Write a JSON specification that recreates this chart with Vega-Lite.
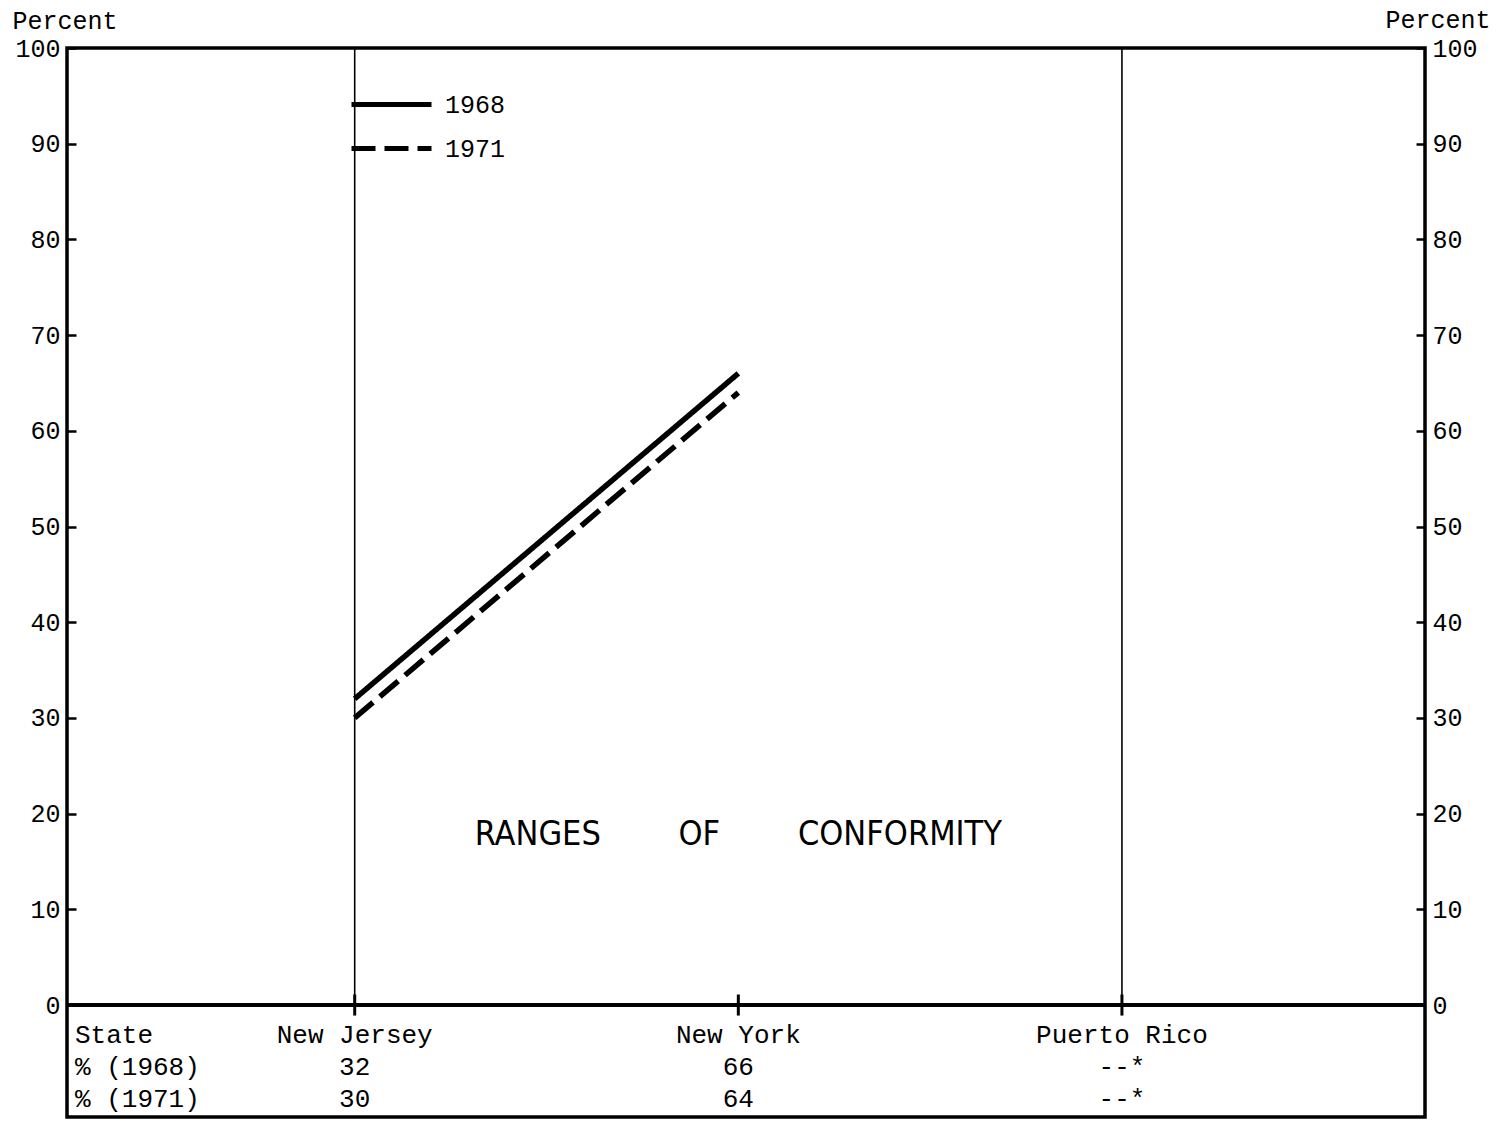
{
  "$schema": "https://vega.github.io/schema/vega-lite/v6.json",
  "width": 1358,
  "height": 1069,
  "autosize": {"type": "none"},
  "padding": {"left": 67, "top": 48, "right": 74, "bottom": 5},
  "background": "white",
  "config": {
    "view": {"stroke": "black", "strokeWidth": 3.5},
    "font": "Liberation Mono",
    "text": {"font": "Liberation Mono", "fontSize": 26, "color": "black"}
  },
  "datasets": {
    "states": [
      {"state": "New Jersey", "p1968": 32, "p1971": 30},
      {"state": "New York", "p1968": 66, "p1971": 64},
      {"state": "Puerto Rico", "p1968": null, "p1971": null}
    ],
    "note": [{"label": "RANGES\u00a0\u00a0\u00a0\u00a0\u00a0\u00a0\u00a0\u00a0OF\u00a0\u00a0\u00a0\u00a0\u00a0\u00a0\u00a0\u00a0CONFORMITY"}]
  },
  "data": {"name": "states"},
  "resolve": {"axis": {"y": "independent"}},
  "layer": [
    {
      "transform": [{"filter": "datum.state !== 'New York'"}],
      "mark": {"type": "rule", "strokeWidth": 1.6, "color": "black"},
      "encoding": {
        "x": {"field": "state", "type": "nominal", "scale": {"type": "point", "domain": ["New Jersey", "New York", "Puerto Rico"], "padding": 0.77, "align": 0.487}, "axis": null},
        "y": {
          "datum": 0, "type": "quantitative",
          "scale": {"domain": [-11.7, 100], "nice": false, "zero": false},
          "axis": {
            "orient": "left", "values": [0, 10, 20, 30, 40, 50, 60, 70, 80, 90, 100],
            "domain": false, "grid": false, "tickSize": -9, "tickWidth": 2.5, "tickColor": "black",
            "labelPadding": 16, "labelFont": "Liberation Mono", "labelFontSize": 25, "labelColor": "black",
            "title": "Percent", "titleAngle": 0, "titleAlign": "left", "titleBaseline": "alphabetic",
            "titleX": -55, "titleY": -20, "titleFont": "Liberation Mono", "titleFontSize": 25,
            "titleFontWeight": "normal", "titleColor": "black"
          }
        },
        "y2": {"datum": 100}
      }
    },
    {
      "mark": {"type": "rule", "strokeWidth": 3.5, "color": "black"},
      "encoding": {
        "y": {
          "datum": 0, "type": "quantitative",
          "axis": {
            "orient": "right", "values": [0, 10, 20, 30, 40, 50, 60, 70, 80, 90, 100],
            "domain": false, "grid": false, "tickSize": -9, "tickWidth": 2.5, "tickColor": "black",
            "labelPadding": 16, "labelFont": "Liberation Mono", "labelFontSize": 25, "labelColor": "black",
            "title": "Percent", "titleAngle": 0, "titleAlign": "left", "titleBaseline": "alphabetic",
            "titleX": -40, "titleY": -21, "titleFont": "Liberation Mono", "titleFontSize": 25,
            "titleFontWeight": "normal", "titleColor": "black"
          }
        }
      }
    },
    {
      "mark": {"type": "rule", "strokeWidth": 3, "color": "black"},
      "encoding": {
        "x": {"field": "state", "type": "nominal", "axis": null},
        "y": {"datum": -1.1, "type": "quantitative", "axis": null},
        "y2": {"datum": 1.1}
      }
    },
    {
      "transform": [
        {"fold": ["p1968", "p1971"], "as": ["series", "value"]},
        {"filter": "datum.value != null"}
      ],
      "mark": {"type": "line", "strokeWidth": 5.5, "color": "black"},
      "encoding": {
        "x": {"field": "state", "type": "nominal", "axis": null},
        "y": {"field": "value", "type": "quantitative", "axis": null},
        "strokeDash": {
          "field": "series", "type": "nominal",
          "scale": {"domain": ["p1968", "p1971"], "range": [[1, 0], [24, 9]]},
          "legend": {
            "orient": "none", "legendX": 302, "legendY": 34, "title": null,
            "symbolType": "M-2,0H2", "symbolSize": 1600, "symbolStrokeWidth": 5, "symbolStrokeColor": "black",
            "labelFont": "Liberation Mono", "labelFontSize": 25, "labelColor": "black",
            "labelOffset": 31, "rowPadding": 8,
            "labelExpr": "datum.label == 'p1968' ? '1968' : '1971'"
          }
        }
      }
    },
    {
      "mark": {"type": "text", "align": "center", "baseline": "middle"},
      "encoding": {
        "x": {"field": "state", "type": "nominal", "axis": null},
        "y": {"datum": -3.1, "type": "quantitative", "axis": null},
        "text": {"field": "state"}
      }
    },
    {
      "transform": [{"calculate": "datum.p1968 == null ? '--*' : '' + datum.p1968", "as": "t1968"}],
      "mark": {"type": "text", "align": "center", "baseline": "middle"},
      "encoding": {
        "x": {"field": "state", "type": "nominal", "axis": null},
        "y": {"datum": -6.5, "type": "quantitative", "axis": null},
        "text": {"field": "t1968"}
      }
    },
    {
      "transform": [{"calculate": "datum.p1971 == null ? '--*' : '' + datum.p1971", "as": "t1971"}],
      "mark": {"type": "text", "align": "center", "baseline": "middle"},
      "encoding": {
        "x": {"field": "state", "type": "nominal", "axis": null},
        "y": {"datum": -9.8, "type": "quantitative", "axis": null},
        "text": {"field": "t1971"}
      }
    },
    {
      "data": {"values": [{"row": "State"}]},
      "mark": {"type": "text", "align": "left", "baseline": "middle"},
      "encoding": {
        "x": {"value": 8},
        "y": {"datum": -3.1, "type": "quantitative", "axis": null},
        "text": {"field": "row"}
      }
    },
    {
      "data": {"values": [{"row": "% (1968)"}]},
      "mark": {"type": "text", "align": "left", "baseline": "middle"},
      "encoding": {
        "x": {"value": 8},
        "y": {"datum": -6.5, "type": "quantitative", "axis": null},
        "text": {"field": "row"}
      }
    },
    {
      "data": {"values": [{"row": "% (1971)"}]},
      "mark": {"type": "text", "align": "left", "baseline": "middle"},
      "encoding": {
        "x": {"value": 8},
        "y": {"datum": -9.8, "type": "quantitative", "axis": null},
        "text": {"field": "row"}
      }
    },
    {
      "data": {"name": "note"},
      "mark": {"type": "text", "align": "center", "baseline": "middle", "font": "DejaVu Sans Condensed", "fontSize": 34},
      "encoding": {
        "x": {"datum": "New York", "type": "nominal", "axis": null},
        "y": {"datum": 17.8, "type": "quantitative", "axis": null},
        "text": {"field": "label"}
      }
    }
  ]
}
